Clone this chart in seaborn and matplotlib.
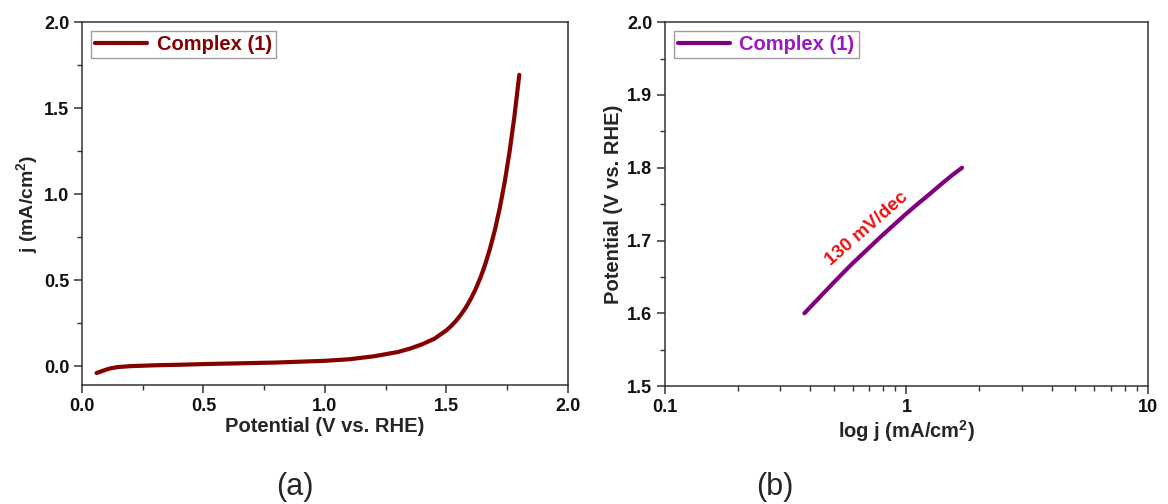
import numpy as np
import pandas as pd
import matplotlib
matplotlib.use("Agg")
import matplotlib.pyplot as plt
from matplotlib.ticker import (MultipleLocator, LogLocator, FixedLocator, FixedFormatter,
                               NullFormatter, FormatStrFormatter)
import seaborn as sns

# LSV polarisation curve of complex (1)
potential_v = [0.06, 0.08, 0.10, 0.12, 0.15, 0.20, 0.30, 0.40, 0.50, 0.60, 0.70, 0.80,
               0.90, 1.00, 1.10, 1.20, 1.30, 1.35, 1.40, 1.45, 1.50, 1.52, 1.54, 1.56,
               1.58, 1.60, 1.62, 1.64, 1.66, 1.68, 1.70, 1.72, 1.74, 1.76, 1.78, 1.80]
current_j = [-0.040, -0.030, -0.020, -0.012, -0.005, 0.000, 0.005, 0.008, 0.012, 0.015,
             0.018, 0.021, 0.026, 0.031, 0.040, 0.057, 0.082, 0.102, 0.127, 0.159, 0.208,
             0.234, 0.264, 0.300, 0.341, 0.390, 0.447, 0.514, 0.593, 0.686, 0.794, 0.922,
             1.071, 1.247, 1.453, 1.694]

# Tafel region
tafel_j = [0.378, 0.42, 0.47, 0.53, 0.60, 0.68, 0.77, 0.87, 1.00, 1.12, 1.26, 1.40, 1.55, 1.70]
tafel_v = [1.600, 1.616, 1.633, 1.651, 1.669, 1.686, 1.703, 1.719, 1.737, 1.751,
           1.765, 1.778, 1.790, 1.800]

tafel_slope_label = "130 mV/dec"
series_name = "Complex (1)"

sns.set_style("ticks")
plt.rcParams["font.family"] = ["Liberation Sans", "DejaVu Sans"]
plt.rcParams["font.weight"] = "bold"
plt.rcParams["mathtext.fontset"] = "custom"
plt.rcParams["mathtext.bf"] = "Liberation Sans:bold"
plt.rcParams["mathtext.rm"] = "Liberation Sans:bold"
plt.rcParams["mathtext.default"] = "bf"

red_c = "#850000"
purple_c = "#800080"
spine_c = "#333333"

fig = plt.figure(figsize=(11.68, 5.04), dpi=100)
ax1 = fig.add_axes([0.0702, 0.236, 0.416, 0.720])
ax2 = fig.add_axes([0.5693, 0.234, 0.4135, 0.722])

lsv = pd.DataFrame({"E": potential_v, "j": current_j})
tafel = pd.DataFrame({"j": tafel_j, "E": tafel_v})

sns.lineplot(data=lsv, x="E", y="j", ax=ax1, color=red_c, lw=3.0, sort=False,
             label=series_name, solid_joinstyle="round", solid_capstyle="round")
sns.lineplot(data=tafel, x="j", y="E", ax=ax2, color=purple_c, lw=3.0, sort=False,
             label=series_name, solid_joinstyle="round", solid_capstyle="round")


def style_axes(ax):
    for s in ax.spines.values():
        s.set_color(spine_c)
        s.set_linewidth(1.1)
    ax.tick_params(which="major", direction="out", length=6, width=1.1, color=spine_c,
                   labelsize=13, labelcolor="#111111", top=False, right=False, pad=3)
    ax.tick_params(which="minor", direction="out", length=3.5, width=1.0, color=spine_c,
                   top=False, right=False)
    for lab in ax.get_xticklabels() + ax.get_yticklabels():
        lab.set_fontweight("bold")


# panel (a)
ax1.set_xlim(0.0, 2.0)
ax1.set_ylim(-0.11, 2.0)
ax1.xaxis.set_major_locator(MultipleLocator(0.5))
ax1.xaxis.set_minor_locator(MultipleLocator(0.25))
ax1.yaxis.set_major_locator(MultipleLocator(0.5))
ax1.yaxis.set_minor_locator(MultipleLocator(0.25))
ax1.xaxis.set_major_formatter(FormatStrFormatter("%.1f"))
ax1.yaxis.set_major_formatter(FormatStrFormatter("%.1f"))
ax1.set_xlabel("Potential (V vs. RHE)", fontsize=14.5, fontweight="bold", labelpad=2)
ax1.set_ylabel(r"j (mA/cm$^{2}$)", fontsize=14, fontweight="bold", labelpad=3)
style_axes(ax1)

# panel (b)
ax2.set_xscale("log")
ax2.set_xlim(0.1, 10)
ax2.set_ylim(1.5, 2.0)
ax2.xaxis.set_major_locator(FixedLocator([0.1, 1, 10]))
ax2.xaxis.set_major_formatter(FixedFormatter(["0.1", "1", "10"]))
ax2.xaxis.set_minor_locator(LogLocator(base=10, subs=np.arange(2, 10)))
ax2.xaxis.set_minor_formatter(NullFormatter())
ax2.yaxis.set_major_locator(MultipleLocator(0.1))
ax2.yaxis.set_minor_locator(MultipleLocator(0.05))
ax2.yaxis.set_major_formatter(FormatStrFormatter("%.1f"))
ax2.set_xlabel(r"log j (mA/cm$^{2}$)", fontsize=14.5, fontweight="bold", labelpad=2)
ax2.set_ylabel("Potential (V vs. RHE)", fontsize=14.5, fontweight="bold", labelpad=3)
style_axes(ax2)

ax2.text(0.685, 1.716, tafel_slope_label, color="#ee1111", fontsize=13.5, fontweight="bold",
         rotation=41, ha="center", va="center", rotation_mode="anchor")

for ax, txt_c in ((ax1, red_c), (ax2, "#9a1ac2")):
    leg = ax.legend(loc="upper left", frameon=True, fancybox=False,
                    handlelength=2.6, handletextpad=0.45, borderpad=0.2,
                    borderaxespad=0.45, prop={"weight": "bold", "size": 14.5})
    leg.get_frame().set_edgecolor("#888888")
    leg.get_frame().set_linewidth(1.0)
    for t in leg.get_texts():
        t.set_color(txt_c)

fig.text(0.2525, 0.033, "(a)", fontsize=22, fontweight="normal", ha="center", va="center")
fig.text(0.6635, 0.033, "(b)", fontsize=22, fontweight="normal", ha="center", va="center")

fig.savefig("out.png", dpi=100, facecolor="white")
